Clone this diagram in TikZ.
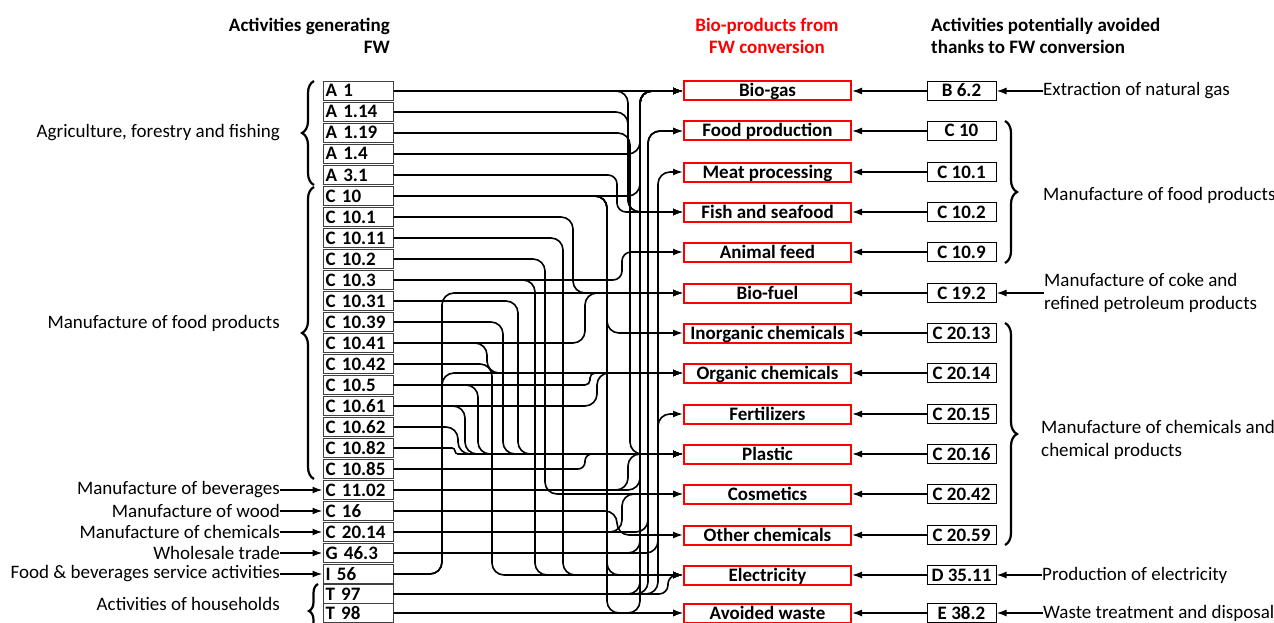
\documentclass[tikz,border=0pt]{standalone}
\usepackage{fontspec}
\setmainfont{Carlito}
\usetikzlibrary{arrows.meta,decorations.pathreplacing}
\newcommand\fwe[4][12pt]{\draw[conn,rounded corners=#1] (#2.east) -- (#2.east -| #3) -- (#4.west -| #3) -- (#4.west);}
\begin{document}
\begin{tikzpicture}[x=1pt,y=-1pt,
  txt/.style={font=\fontsize{19}{22.5}\selectfont, inner sep=0pt},
  hdr/.style={font=\fontsize{19}{22.5}\selectfont\bfseries, inner sep=0pt},
  bx/.style={minimum height=19pt, inner sep=0pt, font=\fontsize{19}{20}\selectfont\bfseries, text height=14pt, text depth=2pt},
  lbox/.style={bx, draw=black!75, line width=1pt, minimum width=70pt, text width=65pt, align=left},
  mbox/.style={bx, draw=red, line width=2pt, minimum width=167pt},
  rbox/.style={bx, draw=black, line width=1pt, minimum width=69pt},
  conn/.style={draw, line width=1.6pt, -{Latex[length=10pt,width=7pt]}},
  brc/.style={draw, line width=2.2pt, decorate, decoration={brace, amplitude=12pt}}]
\useasboundingbox (0,0) rectangle (1274,623);
% headers
\node[hdr, align=right, anchor=east] (h1) at (390,36) {Activities generating\\FW};
\node[hdr, align=center, text=red] (h2) at (767,36) {Bio-products from\\FW conversion};
\node[hdr, align=left, anchor=west] (h3) at (931,36) {Activities potentially avoided\\thanks to FW conversion};
% left boxes
\foreach \t/\y [count=\i from 0] in {A 1/91,A 1.14/112,A 1.19/133,A 1.4/154,A 3.1/175,C 10/196,C 10.1/217,C 10.11/238,C 10.2/259,C 10.3/280,C 10.31/301,C 10.39/322,C 10.41/343,C 10.42/364,C 10.5/385,C 10.61/406,C 10.62/427,C 10.82/448,C 10.85/469,C 11.02/490,C 16/511,C 20.14/532,G 46.3/553,I 56/574,T 97/594,T 98/613}
  \node[lbox] (l\i) at (358,\y) {\t};
% middle boxes
\foreach \t/\y [count=\i from 0] in {Bio-gas/91,Food production/131,Meat processing/172,Fish and seafood/212,Animal feed/252,Bio-fuel/293,Inorganic chemicals/333,Organic chemicals/373,Fertilizers/414,Plastic/454,Cosmetics/494,Other chemicals/535,Electricity/575,Avoided waste/613}
  \node[mbox] (m\i) at (767.5,\y) {\t};
% right boxes
\foreach \t/\y [count=\i from 0] in {B 6.2/91,C 10/131,C 10.1/172,C 10.2/212,C 10.9/252,C 19.2/293,C 20.13/333,C 20.14/373,C 20.15/414,C 20.16/454,C 20.42/494,C 20.59/535,D 35.11/575,E 38.2/613}
  {\node[rbox] (r\i) at (961.5,\y) {\t};
   \draw[conn] (r\i.west) -- (m\i.east);}
% left labels
\node[txt, anchor=east] (la) at (280,133) {Agriculture, forestry and fishing};
\node[txt, anchor=east] (lb) at (280,323) {Manufacture of food products};
\node[txt, anchor=east] (lc) at (280,490) {Manufacture of beverages};
\node[txt, anchor=east] (ld) at (280,511) {Manufacture of wood};
\node[txt, anchor=east] (le) at (280,532) {Manufacture of chemicals};
\node[txt, anchor=east] (lf) at (280,553) {Wholesale trade};
\node[txt, anchor=east] (lg) at (280,574) {Food \& beverages service activities};
\node[txt, anchor=east] (lh) at (280,604) {Activities of households};
\draw[conn] (lc.east) -- (l19.west);
\draw[conn] (ld.east) -- (l20.west);
\draw[conn] (le.east) -- (l21.west);
\draw[conn] (lf.east) -- (l22.west);
\draw[conn] (lg.east) -- (l23.west);
\draw[brc] (314,185) -- (314,81);
\draw[brc] (314,479) -- (314,187);
\draw[brc, decoration={brace, amplitude=9pt}] (318,638) -- (318,584);
% right labels
\node[txt, anchor=west] (ra) at (1043,91) {Extraction of natural gas};
\node[txt, anchor=west] (rb) at (1043,195) {Manufacture of food products};
\node[txt, anchor=west, align=left] (rc) at (1044,293) {Manufacture of coke and\\refined petroleum products};
\node[txt, anchor=west, align=left] (rd) at (1041,440) {Manufacture of chemicals and\\chemical products};
\node[txt, anchor=west] (re) at (1042,575) {Production of electricity};
\node[txt, anchor=west] (rf) at (1043,613) {Waste treatment and disposal};
\draw[conn] (ra.west) -- (r0.east);
\draw[conn] (rc.west) -- (r5.east);
\draw[conn] (re.west) -- (r12.east);
\draw[conn] (rf.west) -- (r13.east);
\draw[brc] (1005,121) -- (1005,263);
\draw[brc] (1005,323) -- (1005,545);
% lanes
\foreach \x in {442,455,458,465,478,487,492,503,518,535,545,563,573,585,590,597,607,617,622,628,630,640,648,658,668}
  \coordinate (x\x) at (\x,0);
% connectors
\draw[conn] (l0.east) -- (m0.west);
\draw[conn] (l25.east) -- (m13.west);
\fwe{l0}{x628}{m3}
\fwe{l1}{x628}{m3}
\fwe{l2}{x630}{m9}
\fwe{l3}{x640}{m0}
\fwe[9pt]{l4}{x617}{m3}
\fwe{l5}{x640}{m0}
\fwe{l5}{x607}{m6}
\fwe{l5}{x607}{m12}
\fwe{l5}{x607}{m13}
\fwe{l6}{x573}{m5}
\fwe{l7}{x563}{m12}
\fwe{l8}{x545}{m10}
\fwe[9pt]{l9}{x622}{m4}
\fwe{l9}{x535}{m12}
\fwe{l10}{x518}{m9}
\fwe{l11}{x503}{m9}
\fwe{l12}{x585}{m5}
\fwe{l12}{x487}{m7}
\fwe{l13}{x492}{m12}
\fwe{l14}{x478}{m9}
\fwe[5pt]{l14}{x590}{m7}
\fwe{l15}{x597}{m7}
\fwe{l15}{x465}{m9}
\fwe{l16}{x458}{m9}
\fwe[3pt]{l17}{x455}{m9}
\fwe[7pt]{l18}{x585}{m9}
\fwe{l19}{x628}{m9}
\fwe{l19}{x640}{m0}
\fwe{l20}{x617}{m11}
\fwe{l21}{x622}{m10}
\fwe{l21}{x648}{m1}
\fwe{l22}{x658}{m8}
\fwe{l22}{x640}{m0}
\fwe{l23}{x442}{m5}
\fwe{l23}{x442}{m7}
\fwe[9pt]{l24}{x668}{m12}
\fwe{l24}{x640}{m0}
\fwe{l24}{x648}{m1}
\fwe{l24}{x658}{m2}
\fwe{l25}{x640}{m0}
\end{tikzpicture}
\end{document}
